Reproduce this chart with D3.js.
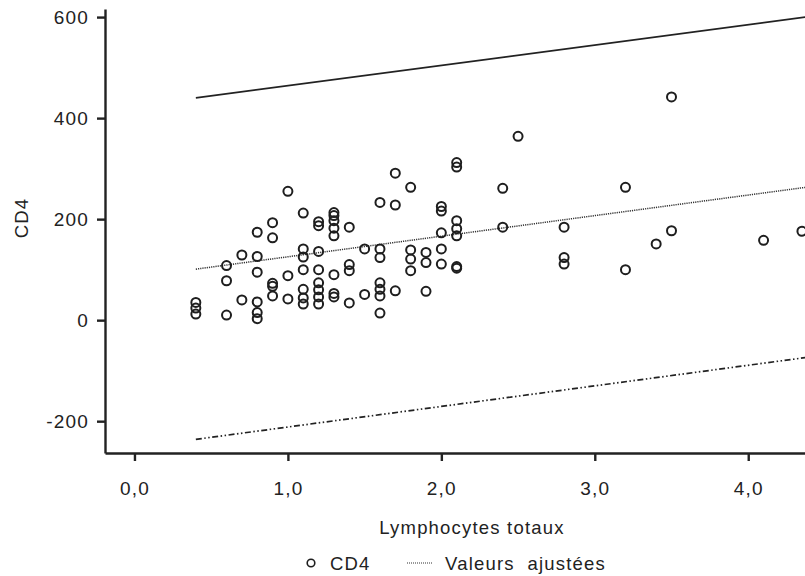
<!DOCTYPE html>
<meta charset="utf-8">
<style>
body { margin: 0; background: #fff; }
svg { display: block; }
text {
  font-family: "Liberation Sans", Arial, Helvetica, sans-serif;
  font-size: 18.5px;
  letter-spacing: 1.2px;
  fill: #222;
}
.axis path, .axis line { stroke: #222; stroke-width: 2.4; }
.dot { fill: none; stroke: #1e1e1e; stroke-width: 2; }
</style>
<body>
<script src="https://cdn.jsdelivr.net/npm/d3@7"></script>
<script>
// lymphocytes totaux (x) and CD4 (y), one column of x at a time
var lymphocytes = [
  0.4, 0.4, 0.4,
  0.6, 0.6, 0.6,
  0.7, 0.7,
  0.8, 0.8, 0.8, 0.8, 0.8, 0.8,
  0.9, 0.9, 0.9, 0.9, 0.9,
  1.0, 1.0, 1.0,
  1.1, 1.1, 1.1, 1.1, 1.1, 1.1, 1.1,
  1.2, 1.2, 1.2, 1.2, 1.2, 1.2, 1.2, 1.2,
  1.3, 1.3, 1.3, 1.3, 1.3, 1.3, 1.3, 1.3,
  1.4, 1.4, 1.4, 1.4,
  1.5, 1.5,
  1.6, 1.6, 1.6, 1.6, 1.6, 1.6, 1.6,
  1.7, 1.7, 1.7,
  1.8, 1.8, 1.8, 1.8,
  1.9, 1.9, 1.9,
  2.0, 2.0, 2.0, 2.0, 2.0,
  2.1, 2.1, 2.1, 2.1, 2.1, 2.1, 2.1,
  2.4, 2.4,
  2.5,
  2.8, 2.8, 2.8,
  3.2, 3.2,
  3.4,
  3.5, 3.5,
  4.1,
  4.35
];
var cd4 = [
  35, 24, 12,
  108, 78, 10,
  129, 40,
  174, 126, 95, 36, 15, 3,
  193, 163, 73, 67, 48,
  255, 88, 42,
  212, 141, 125, 100, 61, 44, 32,
  195, 187, 136, 100, 74, 60, 46, 32,
  213, 207, 197, 182, 167, 90, 53, 46,
  184, 110, 98, 34,
  141, 51,
  233, 141, 124, 74, 61, 48, 14,
  291, 228, 58,
  263, 139, 121, 98,
  134, 114, 57,
  225, 216, 173, 141, 111,
  312, 303, 197, 181, 167, 106, 103,
  261, 184,
  364,
  184, 124, 111,
  263, 100,
  151,
  442, 177,
  158,
  176
];

// fitted line and interval lines, ends at x = 0.4 and 4.4
var lineX = [0.4, 4.4];
var fitted = [101, 264];
var upper = [440, 601];
var lower = [-236, -73];

var xTicks = [0, 1, 2, 3, 4];
var yTicks = [-200, 0, 200, 400, 600];

var width = 805, height = 576;

var svg = d3.select("body").append("svg")
    .attr("width", width)
    .attr("height", height);

var x = d3.scaleLinear().domain([-0.192, 4.37]).range([105, 805]);
var y = d3.scaleLinear().domain([-263, 616]).range([453, 9]);

var fr = d3.formatLocale({decimal: ",", thousands: " ", grouping: [3], currency: ["", ""], minus: "-"});

var xAxis = svg.append("g")
    .attr("class", "axis")
    .attr("transform", "translate(0,453)")
    .call(d3.axisBottom(x).tickValues(xTicks).tickSize(8).tickSizeOuter(0)
      .tickPadding(21).tickFormat(fr.format(".1f")));

var yAxis = svg.append("g")
    .attr("class", "axis")
    .attr("transform", "translate(105,0)")
    .call(d3.axisLeft(y).tickValues(yTicks).tickSize(8).tickSizeOuter(0)
      .tickPadding(8).tickFormat(fr.format("d")));

svg.selectAll(".axis text")
    .attr("fill", "#222")
    .style("font-size", "19px")
    .style("font-family", "\"Liberation Sans\", Arial, sans-serif");
svg.selectAll(".axis .domain").attr("stroke", "#222");
svg.selectAll(".axis .tick line").attr("stroke", "#222").attr("stroke-width", 2);

var line = d3.line()
    .x(function(d) { return x(d[0]); })
    .y(function(d) { return y(d[1]); });

function pairs(ys) { return lineX.map(function(v, i) { return [v, ys[i]]; }); }

svg.append("path")
    .attr("d", line(pairs(upper)))
    .attr("fill", "none")
    .attr("stroke", "#222")
    .attr("stroke-width", 1.7);

svg.append("path")
    .attr("d", line(pairs(lower)))
    .attr("fill", "none")
    .attr("stroke", "#222")
    .attr("stroke-width", 1.7)
    .attr("stroke-dasharray", "6,2.5,1.5,2.5,1.5,2.5");

svg.append("path")
    .attr("d", line(pairs(fitted)))
    .attr("fill", "none")
    .attr("stroke", "#333")
    .attr("stroke-width", 1.5)
    .attr("stroke-dasharray", "1.2,1");

svg.selectAll(".dot")
    .data(cd4)
    .enter().append("circle")
    .attr("class", "dot")
    .attr("cx", function(d, i) { return x(lymphocytes[i]); })
    .attr("cy", function(d) { return y(d); })
    .attr("r", 4.5);

// axis titles
svg.append("text")
    .attr("transform", "translate(28,218) rotate(-90)")
    .attr("text-anchor", "middle")
    .text("CD4");

svg.append("text")
    .attr("x", 472)
    .attr("y", 534)
    .attr("text-anchor", "middle")
    .text("Lymphocytes totaux");

// legend
var legend = svg.append("g");
legend.append("circle")
    .attr("class", "dot")
    .attr("cx", 311).attr("cy", 563).attr("r", 3.8)
    .style("stroke-width", 1.6);
legend.append("text")
    .attr("x", 330).attr("y", 570)
    .text("CD4");
legend.append("line")
    .attr("x1", 407).attr("x2", 432)
    .attr("y1", 563).attr("y2", 563)
    .attr("stroke", "#333")
    .attr("stroke-width", 1.2)
    .attr("stroke-dasharray", "1,1");
legend.append("text")
    .attr("x", 445).attr("y", 570)
    .style("white-space", "pre")
    .text("Valeurs  ajustées");
</script>
</body>
